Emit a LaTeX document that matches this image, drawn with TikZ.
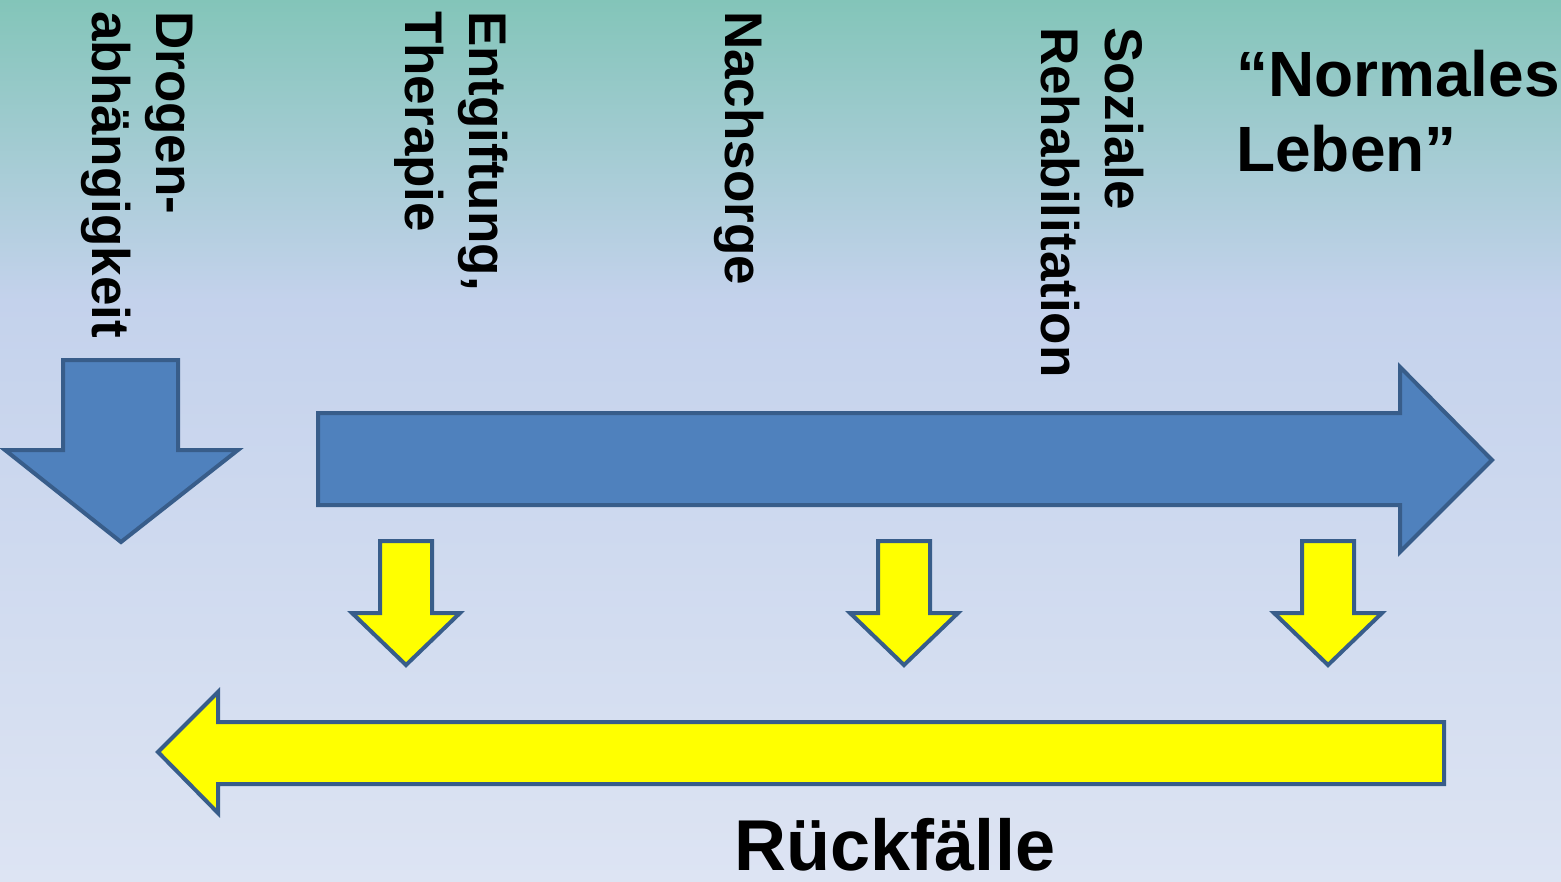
\documentclass[tikz,border=0pt]{standalone}
\usepackage{fontspec}
\setmainfont{Liberation Sans}
\begin{document}
\begin{tikzpicture}[x=1pt,y=-1pt,
  blueshape/.style={fill=arrowblue,draw=edgeblue,line width=4pt,line join=miter},
  yellowshape/.style={fill=arrowyellow,draw=edgeblue,line width=4pt,line join=miter},
  vlabel/.style={rotate=-90,anchor=north west,inner sep=0pt,align=left,font=\fontsize{53}{64}\selectfont\bfseries},
  hlabel/.style={inner sep=0pt,align=left,font=\fontsize{64}{75}\selectfont\bfseries}]
\definecolor{arrowblue}{HTML}{4F81BD}
\definecolor{edgeblue}{HTML}{385D8A}
\definecolor{arrowyellow}{HTML}{FFFF00}
\definecolor{bgtop}{HTML}{83C5B9}
\definecolor{bgmid}{HTML}{C4D2EC}
\definecolor{bgbot}{HTML}{DDE4F3}
\useasboundingbox (0,0) rectangle (1561,881);
% background
\shade[top color=bgtop,bottom color=bgmid] (0,0) rectangle (1561,300.5);
\shade[top color=bgmid,bottom color=bgbot] (0,300) rectangle (1561,881);
% blue down arrow
\draw[blueshape] (63,360) -- (178,360) -- (178,450) -- (238,450) -- (121,542) -- (5,450) -- (63,450) -- cycle;
% big right arrow
\draw[blueshape] (318,413) -- (1400,413) -- (1400,367) -- (1492,460) -- (1400,552) -- (1400,505) -- (318,505) -- cycle;
% yellow down arrows
\foreach \cx in {406,904,1328}{
  \draw[yellowshape] (\cx-26,541) -- (\cx+26,541) -- (\cx+26,613) -- (\cx+54,613) -- (\cx,665) -- (\cx-54,613) -- (\cx-26,613) -- cycle;
}
% yellow left arrow
\draw[yellowshape] (1444,722) -- (218,722) -- (218,692) -- (158,752) -- (218,813) -- (218,784) -- (1444,784) -- cycle;
% labels
\node[vlabel] (drogen) at (193,11) {Drogen-\\abhängigkeit};
\node[vlabel] (entgift) at (508,11) {Entgiftung,\\Therapie};
\node[vlabel] (nachsorge) at (764,11) {Nachsorge};
\node[vlabel] (soziale) at (1144,27) {Soziale\\Rehabilitation};
\node[hlabel,anchor=north west] (normal) at (1236,50) {“Normales\\Leben”};
\node[inner sep=0pt,font=\fontsize{72}{80}\selectfont\bfseries,anchor=base] (rueck) at (895,870) {Rückfälle};
\end{tikzpicture}
\end{document}
